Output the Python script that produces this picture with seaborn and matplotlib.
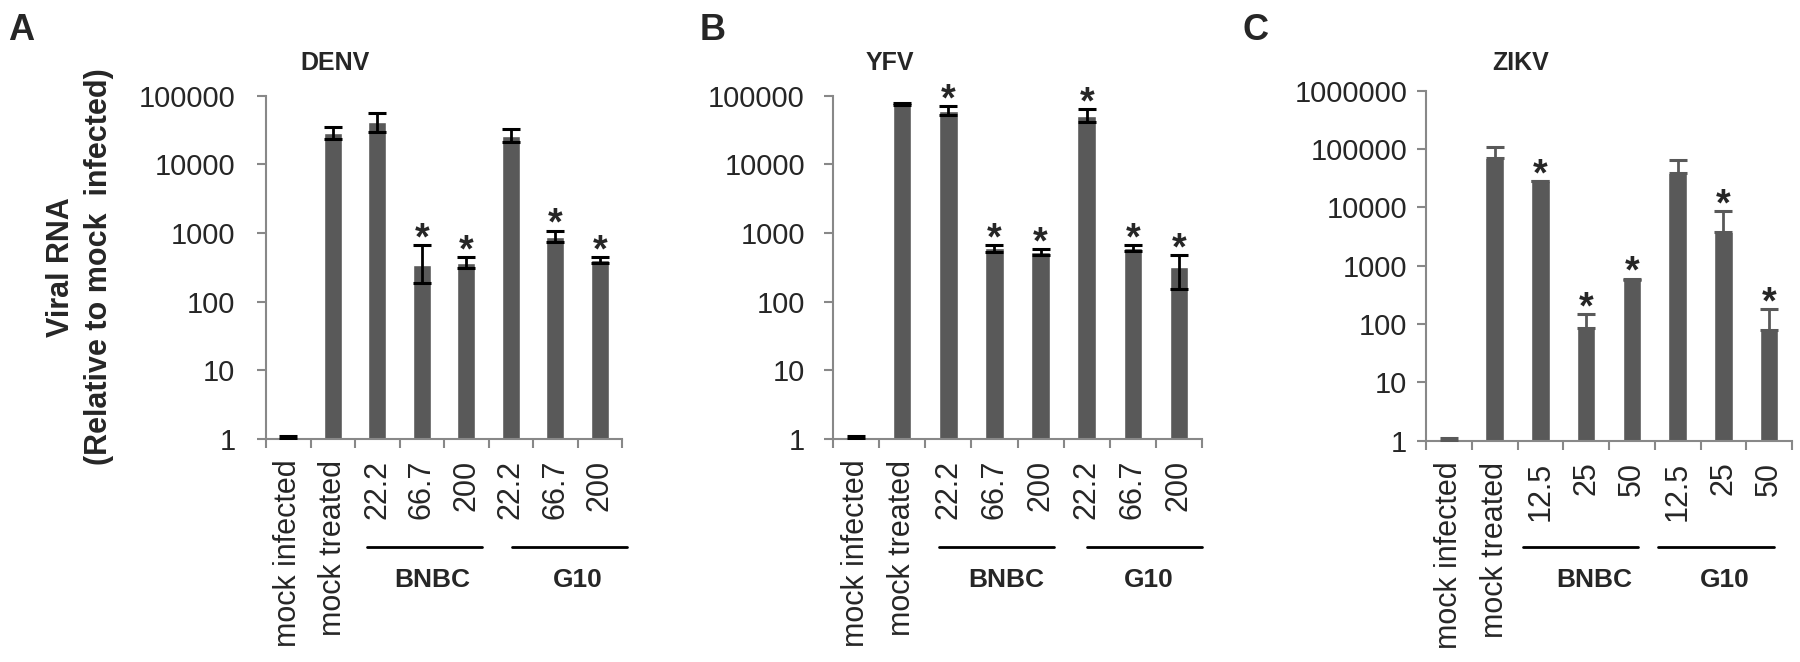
import numpy as np
import pandas as pd
import matplotlib
matplotlib.use("Agg")
import matplotlib.pyplot as plt
import seaborn as sns
from matplotlib.transforms import blended_transform_factory
from matplotlib.ticker import FixedLocator, FixedFormatter, NullLocator

sns.set_style("white")
plt.rcParams["font.family"] = ["Liberation Sans", "DejaVu Sans"]

# ---------------- data ----------------
flavi_categories = ["mock infected", "mock treated", "22.2", "66.7", "200", "22.2", "66.7", "200"]
zikv_categories = ["mock infected", "mock treated", "12.5", "25", "50", "12.5", "25", "50"]

denv_mean = [1.0, 28500, 41600, 340, 360, 25700, 880, 400]
denv_low = [1.0, 23800, 29800, 185, 305, 21300, 730, 360]
denv_high = [1.1, 35200, 56200, 670, 450, 32200, 1080, 450]
denv_star = [0, 0, 0, 1, 1, 0, 1, 1]

yfv_mean = [1.0, 75000, 59500, 596, 521, 50800, 596, 322]
yfv_low = [1.0, 72000, 52000, 533, 471, 41100, 550, 154]
yfv_high = [1.1, 77500, 70300, 667, 576, 64300, 667, 477]
yfv_star = [0, 0, 1, 1, 1, 1, 1, 1]

zikv_mean = [1.0, 70600, 28150, 86, 562, 39100, 3775, 78]
zikv_high = [1.12, 107500, 28150, 147, 600, 65300, 8630, 181]
zikv_star = [0, 0, 1, 1, 1, 0, 1, 1]

ab_yticks = [1, 10, 100, 1000, 10000, 100000]
ab_yticklabels = ["1", "10", "100", "1000", "10000", "100000"]
c_yticks = [1, 10, 100, 1000, 10000, 100000, 1000000]
c_yticklabels = ["1", "10", "100", "1000", "10000", "100000", "1000000"]

group_names = ["BNBC", "G10"]
titles = ["DENV", "YFV", "ZIKV"]
panel_letters = ["A", "B", "C"]
ylabel_text = "Viral RNA\n(Relative to mock  infected)"

# ---------------- style ----------------
BAR = "#595959"
SPINE = "#888888"
W, H = 1800, 662

fig = plt.figure(figsize=(18, 6.62), dpi=100)


def fx(px):
    return px / W


def fy(py):
    return (H - py) / H


def panel(rect, cats, mean, low, high, stars, yticks, yticklabels, ypad,
          ecolor, groups, title, title_left):
    ax = fig.add_axes(rect)
    pos = np.arange(len(cats))
    df = pd.DataFrame({"pos": pos, "value": mean})
    sns.barplot(data=df, x="pos", y="value", color=BAR, saturation=1,
                width=0.4, errorbar=None, ax=ax, zorder=2)
    ax.set_yscale("log")
    m = np.array(mean, dtype=float)
    lo = np.array(low, dtype=float)
    hi = np.array(high, dtype=float)
    ax.errorbar(pos, m, yerr=[m - lo, hi - m], fmt="none", ecolor=ecolor,
                elinewidth=2, capsize=6.5, capthick=2.2, zorder=3)
    for i, s in enumerate(stars):
        if s:
            ax.annotate("*", xy=(i, hi[i]), xytext=(0, -3),
                        textcoords="offset points", ha="center",
                        va="baseline", fontsize=27, fontweight="bold")
    ax.set_ylim(yticks[0], yticks[-1])
    ax.set_xlim(-0.5, len(cats) - 0.5)
    ax.yaxis.set_major_locator(FixedLocator(yticks))
    ax.yaxis.set_major_formatter(FixedFormatter(yticklabels))
    ax.yaxis.set_minor_locator(NullLocator())
    ax.set_xticks(pos)
    ax.set_xticklabels(cats, rotation=90)
    ax.set_xticks(np.arange(-0.5, len(cats), 1), minor=True)
    ax.tick_params(axis="x", which="major", length=0, pad=15, labelsize=22)
    ax.tick_params(axis="x", which="minor", length=6.5, width=1.5,
                   color=SPINE, direction="out", bottom=True)
    ax.tick_params(axis="y", which="major", length=6.5, width=1.5,
                   color=SPINE, direction="out", left=True, pad=ypad,
                   labelsize=21)
    ax.set_xlabel("")
    ax.set_ylabel("")
    for side in ["top", "right"]:
        ax.spines[side].set_visible(False)
    for side in ["left", "bottom"]:
        ax.spines[side].set_color(SPINE)
        ax.spines[side].set_linewidth(1.5)
    tr = blended_transform_factory(ax.transData, fig.transFigure)
    for name, (x0, x1, xc) in zip(group_names, groups):
        ax.plot([x0, x1], [fy(547), fy(547)], transform=tr, color="black",
                lw=2, clip_on=False)
        ax.text(xc, fy(580), name, transform=tr, ha="center", va="center",
                fontsize=19, fontweight="bold")
    fig.text(fx(title_left), fy(70), title, ha="left", va="baseline",
             fontsize=18, fontweight="bold")
    return ax


ax_a = panel([fx(266), fy(439), fx(356), (439 - 95.7) / H], flavi_categories,
             denv_mean, denv_low, denv_high, denv_star, ab_yticks,
             ab_yticklabels, 15.5, "black",
             [(1.77, 4.35, 3.23), (5.03, 7.61, 6.51)], titles[0], 300)
ax_b = panel([fx(833), fy(439), fx(369), (439 - 95.7) / H], flavi_categories,
             yfv_mean, yfv_low, yfv_high, yfv_star, ab_yticks,
             ab_yticklabels, 13.7, "black",
             [(1.8, 4.3, 3.25), (5.0, 7.5, 6.35)], titles[1], 866)
ax_c = panel([fx(1426), fy(440.7), fx(366), (440.7 - 90.7) / H],
             zikv_categories, zikv_mean, zikv_mean, zikv_high, zikv_star,
             c_yticks, c_yticklabels, 7, BAR,
             [(1.62, 4.13, 3.17), (4.57, 7.10, 6.03)], titles[2], 1492)

fig.text(fx(80), fy(267), ylabel_text, rotation=90, ha="center", va="center",
         multialignment="center", fontsize=22, fontweight="bold",
         linespacing=1.35)

for letter, xpx in zip(panel_letters, [8, 700, 1242]):
    fig.text(fx(xpx), fy(40), letter, ha="left", va="baseline", fontsize=26,
             fontweight="bold")

fig.savefig("out.png", dpi=100)
